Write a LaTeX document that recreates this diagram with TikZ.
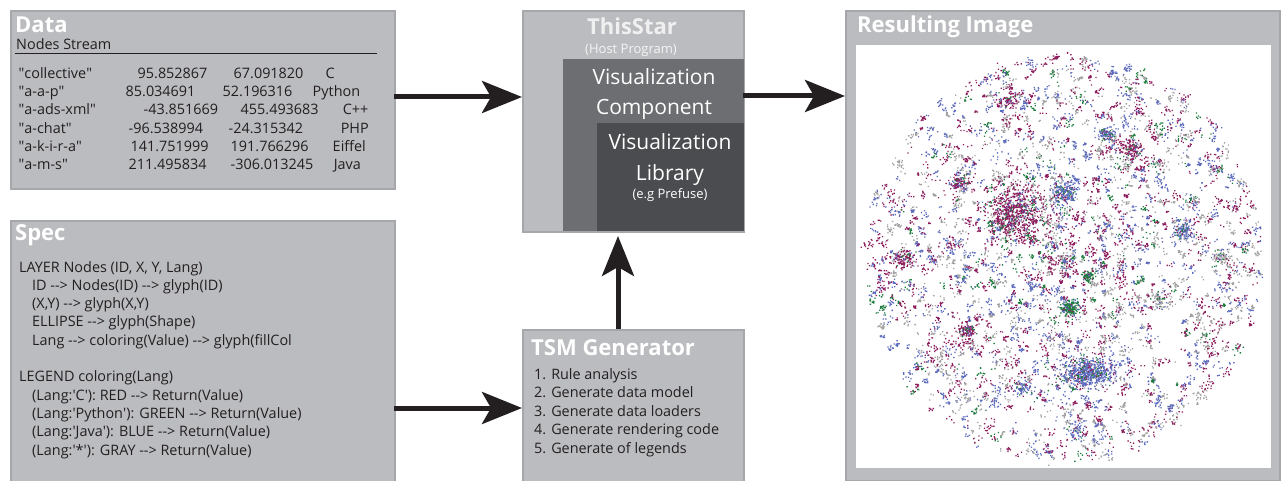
\documentclass[tikz,border=0pt]{standalone}
\usepackage{fontspec}
\setmainfont{Open Sans}[Ligatures=TeXOff]
\usetikzlibrary{arrows.meta,calc}

\definecolor{panel}{HTML}{BBBCBF}
\definecolor{panelrule}{HTML}{A6A7AA}
\definecolor{compfill}{HTML}{6D6E71}
\definecolor{libfill}{HTML}{4B4C4F}
\definecolor{ink}{HTML}{231F20}
\definecolor{mag}{HTML}{8E1F5E}
\definecolor{blu}{HTML}{5E6CBE}
\definecolor{grn}{HTML}{1F7D40}
\definecolor{gry}{HTML}{A2A2A2}

\newcommand\titlefont{\fontsize{22}{25}\selectfont\bfseries}
\newcommand\bodyfont{\fontsize{14.4}{17}\selectfont}
\newcommand\smallfont{\fontsize{13}{15}\selectfont}
\newcommand\bigfont{\fontsize{21}{24}\selectfont}
\newcommand\arr{-\kern0pt-\kern0pt>}
\newcommand\sq{\textquotesingle}
\newcommand\dq{\textquotedbl}
% one data record: four fields placed at fixed offsets
\newcommand\drow[7]{\rlap{#1}\rlap{\hspace*{#2pt}#3}\rlap{\hspace*{#4pt}#5}\rlap{\hspace*{#6pt}#7}}

% colour of a scatter dot group from a number in [0,1)
\newcommand\pickcol[1]{%
  \ifdim#1pt<0.35pt \def\dc{mag}\else
  \ifdim#1pt<0.63pt \def\dc{blu}\else
  \ifdim#1pt<0.92pt \def\dc{gry}\else
  \def\dc{grn}\fi\fi\fi}

% dots of one colour around a centre: colour, x, y, spread x, spread y, count
\newcommand\dotset[6]{%
  \fill[#1] \foreach \j in {1,...,#6}{
    ({#2+#4*(rnd+rnd+rnd-1.5)/1.5},{#3+#5*(rnd+rnd+rnd-1.5)/1.5}) rectangle ++(1.3,1.3)};}
% dense community: x, y, spread x, spread y, main colour, main count, others count
\newcommand\clump[7]{%
  \dotset{gry}{#1}{#2}{#3}{#4}{#7}%
  \dotset{#5}{#1}{#2}{#3}{#4}{#6}%
  \dotset{mag}{#1}{#2}{#3}{#4}{#7}%
  \dotset{blu}{#1}{#2}{#3}{#4}{#7}%
  \dotset{grn}{#1}{#2}{#3}{#4}{#7}}

\tikzset{
  panelbox/.style={draw=panelrule, line width=2pt, fill=panel, anchor=north west, inner sep=0pt},
  txt/.style={anchor=base west, inner sep=0pt, text=ink, font=\bodyfont},
  ttl/.style={anchor=base west, inner sep=0pt, text=white, font=\titlefont},
  flow/.style={line width=5pt, -{Stealth[length=40pt,width=32pt,inset=9pt]}},
}

\begin{document}
\begin{tikzpicture}[x=1pt,y=-1pt]
\useasboundingbox (0,0) rectangle (1281,481);

% ---------------- panels ----------------
\node[panelbox, minimum width=384pt, minimum height=178pt] (data) at (10,10) {};
\node[panelbox, minimum width=384pt, minimum height=280pt] (spec) at (10,220) {};
\node[panelbox, minimum width=221pt, minimum height=221pt] (thisstar) at (522,10) {};
\node[fill=compfill, anchor=north west, inner sep=0pt, minimum width=181pt, minimum height=172pt] (vcomp) at (563,59) {};
\node[fill=libfill, anchor=north west, inner sep=0pt, minimum width=147pt, minimum height=108pt] (vlib) at (597,123) {};
\node[panelbox, minimum width=221pt, minimum height=170pt] (tsm) at (522,329) {};
\node[panelbox, minimum width=434pt, minimum height=470pt] (result) at (845,10) {};
\node[fill=white, anchor=north west, inner sep=0pt, minimum width=415pt, minimum height=423pt] (canvas) at (856,45) {};

% ---------------- Data ----------------
\node[ttl] (dataT) at (15,33) {Data};
\node[txt] (dataS) at (16,50) {Nodes Stream};
\draw[ink, line width=1pt] (15,54) coordinate (ruleA) -- (377,54) coordinate (ruleB);
\node[txt] (r1) at (18,78.3)  {\drow{\dq collective\dq}{119}{95.852867}{215}{67.091820}{307}{C}};
\node[txt] (r2) at (18,96.6)  {\drow{\dq a-a-p\dq}{107}{85.034691}{204}{52.196316}{294}{Python}};
\node[txt] (r3) at (18,114.9) {\drow{\dq a-ads-xml\dq}{125}{-43.851669}{222}{455.493683}{324}{C++}};
\node[txt] (r4) at (18,133.2) {\drow{\dq a-chat\dq}{110}{-96.538994}{210}{-24.315342}{322}{PHP}};
\node[txt] (r5) at (18,151.5) {\drow{\dq a-k-i-r-a\dq}{112}{141.751999}{212}{191.766296}{314}{Eiffel}};
\node[txt] (r6) at (18,169.8) {\drow{\dq a-m-s\dq}{110}{211.495834}{212}{-306.013245}{315}{Java}};

% ---------------- Spec ----------------
\node[ttl] (specT) at (15,240) {Spec};
\node[txt] (s1)  at (19,272.0) {LAYER Nodes (ID, X, Y, Lang)};
\node[txt] (s2)  at (32,290.3) {ID \arr{} Nodes(ID) \arr{} glyph(ID)};
\node[txt] (s3)  at (32,308.6) {(X,Y) \arr{} glyph(X,Y)};
\node[txt] (s4)  at (32,326.9) {ELLIPSE \arr{} glyph(Shape)};
\node[txt] (s5)  at (32,345.2) {Lang \arr{} coloring(Value) \arr{} glyph(fillCol};
\node[txt] (s6)  at (19,381.8) {LEGEND coloring(Lang)};
\node[txt] (s7)  at (32,400.1) {(Lang:\sq C\sq): RED \arr{} Return(Value)};
\node[txt] (s8)  at (32,418.4) {(Lang:\sq Python\sq): GREEN \arr{} Return(Value)};
\node[txt] (s9)  at (32,436.7) {(Lang:\sq Java\sq): BLUE \arr{} Return(Value)};
\node[txt] (s10) at (32,455.0) {(Lang:\sq*\sq): GRAY \arr{} Return(Value)};

% ---------------- ThisStar ----------------
\node[anchor=base, inner sep=0pt, text=white!94!black, font=\titlefont] (tsT) at (632,35) {ThisStar};
\node[anchor=base, inner sep=0pt, text=white!96!black, font=\smallfont] (tsH) at (631,54) {(Host Program)};
\node[anchor=base, inner sep=0pt, text=white, font=\bigfont] (vc1) at (654,85) {Visualization};
\node[anchor=base, inner sep=0pt, text=white, font=\bigfont] (vc2) at (654,115) {Component};
\node[anchor=base, inner sep=0pt, text=white, font=\bigfont] (vl1) at (670,150) {Visualization};
\node[anchor=base, inner sep=0pt, text=white, font=\bigfont] (vl2) at (670,180) {Library};
\node[anchor=base, inner sep=0pt, text=white, font=\smallfont] (vl3) at (670,198) {(e.g Prefuse)};

% ---------------- TSM Generator ----------------
\node[ttl] (tsmT) at (531,355) {TSM Generator};
\node[txt] (t1) at (534,379.4) {1. Rule analysis};
\node[txt] (t2) at (534,397.8) {2. Generate data model};
\node[txt] (t3) at (534,416.2) {3. Generate data loaders};
\node[txt] (t4) at (534,434.6) {4. Generate rendering code};
\node[txt] (t5) at (534,453.0) {5. Generate of legends};

% ---------------- Resulting Image ----------------
\node[ttl] (resT) at (857,33) {Resulting Image};

\begin{scope}
\clip (canvas.north west) rectangle (canvas.south east);
\pgfmathsetseed{7}
% scattered small single-colour groups over the whole disc
\foreach \k in {1,...,1700}{%
  \pgfmathsetmacro\a{360*rnd}%
  \pgfmathsetmacro\r{rnd^0.62}%
  \pgfmathsetmacro\cx{1063+198*\r*cos(\a)}%
  \pgfmathsetmacro\cy{258+204*\r*sin(\a)}%
  \pgfmathsetmacro\s{2+6*rnd}%
  \pgfmathtruncatemacro\n{2+9*rnd}%
  \pgfmathsetmacro\cc{rnd}%
  \pickcol{\cc}%
  \fill[\dc] \foreach \j in {1,...,\n}{
    ({\cx+\s*(rnd+rnd-1)},{\cy+\s*(rnd+rnd-1)}) rectangle ++(1.3,1.3)};
}
% denser communities
\clump{1015}{212}{40}{42}{mag}{480}{60}
\clump{1063}{192}{20}{18}{blu}{140}{20}
\clump{1087}{372}{38}{22}{blu}{450}{45}
\clump{1070}{307}{14}{12}{grn}{100}{12}
\clump{1088}{276}{9}{8}{grn}{60}{6}
\clump{903}{258}{18}{13}{mag}{90}{12}
\clump{966}{330}{16}{13}{mag}{90}{12}
\clump{1220}{257}{11}{10}{gry}{60}{6}
\clump{1183}{230}{18}{15}{blu}{100}{14}
\clump{1130}{150}{20}{16}{mag}{100}{14}
\clump{1107}{133}{16}{11}{blu}{70}{10}
\clump{1008}{100}{18}{10}{mag}{65}{8}
\clump{1022}{387}{16}{11}{blu}{55}{8}
\clump{1075}{430}{14}{16}{blu}{50}{6}
\clump{960}{180}{16}{13}{mag}{60}{10}
\clump{1160}{300}{18}{15}{gry}{60}{10}
\end{scope}

% ---------------- connectors ----------------
\coordinate (dataOut) at (394,97);
\coordinate (specOut) at (394,408);
\coordinate (tsmUp) at (618,329);
\coordinate (starOut) at (743,96);
\draw[flow, ink] (dataOut) -- (dataOut -| thisstar.west);
\draw[flow, ink] (specOut) -- (specOut -| tsm.west);
\draw[flow, ink, shorten >=3pt] (tsmUp) -- (tsmUp |- thisstar.south);
\draw[flow, ink] (starOut) -- (starOut -| result.west);
\end{tikzpicture}
\end{document}
